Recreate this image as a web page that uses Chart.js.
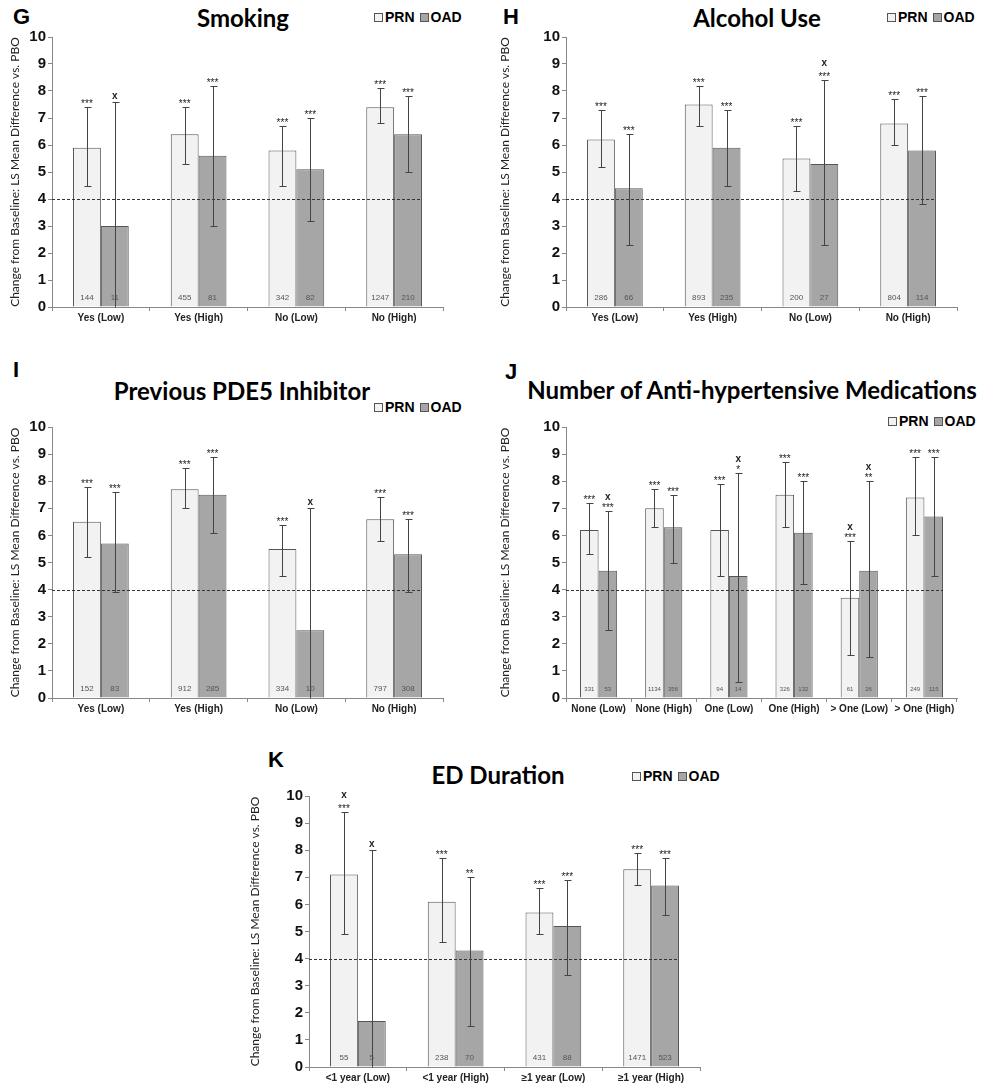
<!DOCTYPE html>
<html>
<head>
<meta charset="utf-8">
<script src="https://cdn.jsdelivr.net/npm/chart.js@4.4.1/dist/chart.umd.min.js"></script>
<style>
  body { margin: 0; background: #fff; width: 982px; height: 1087px; position: relative; overflow: hidden; }
  canvas { position: absolute; }
  .txt { position: absolute; white-space: nowrap; color: #000; }
  .letter { font: bold 22px "Liberation Sans", Arial, sans-serif; transform: translateY(-50%); }
  .title { font: bold 24px Lato, sans-serif; transform: translate(-50%, -50%); }
  .legend { display: flex; align-items: center; font: bold 14px "Liberation Sans", Arial, sans-serif; transform: translateY(-50%); }
  .sw { display: inline-block; width: 7px; height: 7px; border: 1px solid #555; margin-right: 2px; }
  .sw.prn { background: #f2f2f2; }
  .sw.oad { background: #a6a6a6; margin-left: 5px; }
</style>
</head>
<body>

<div class="txt letter" style="left:13px;top:17px">G</div>
<div class="txt title" style="left:243px;top:17px">Smoking</div>
<div class="txt legend" style="left:374px;top:17px"><span class="sw prn"></span>PRN<span class="sw oad"></span>OAD</div>

<div class="txt letter" style="left:503px;top:17px">H</div>
<div class="txt title" style="left:757px;top:17px">Alcohol Use</div>
<div class="txt legend" style="left:887px;top:17px"><span class="sw prn"></span>PRN<span class="sw oad"></span>OAD</div>

<div class="txt letter" style="left:13px;top:370px">I</div>
<div class="txt title" style="left:242px;top:390px">Previous PDE5 Inhibitor</div>
<div class="txt legend" style="left:374px;top:407px"><span class="sw prn"></span>PRN<span class="sw oad"></span>OAD</div>

<div class="txt letter" style="left:505px;top:372px">J</div>
<div class="txt title" style="left:752px;top:389px">Number of Anti-hypertensive Medications</div>
<div class="txt legend" style="left:888px;top:421px"><span class="sw prn"></span>PRN<span class="sw oad"></span>OAD</div>

<div class="txt letter" style="left:268px;top:760px">K</div>
<div class="txt title" style="left:498px;top:774px">ED Duration</div>
<div class="txt legend" style="left:632px;top:776px"><span class="sw prn"></span>PRN<span class="sw oad"></span>OAD</div>

<script>
// G - Smoking
const smokingCats = ['Yes (Low)', 'Yes (High)', 'No (Low)', 'No (High)'];
const smokingPrn = [5.9, 6.4, 5.8, 7.4];
const smokingPrnLo = [4.5, 5.3, 4.5, 6.8];
const smokingPrnHi = [7.4, 7.4, 6.7, 8.1];
const smokingOad = [3.0, 5.6, 5.1, 6.4];
const smokingOadLo = [0, 3.0, 3.2, 5.0];
const smokingOadHi = [7.6, 8.2, 7.0, 7.8];
const smokingPrnN = [144, 455, 342, 1247];
const smokingOadN = [11, 81, 82, 210];
const smokingPrnSig = ['***', '***', '***', '***'];
const smokingOadSig = ['x', '***', '***', '***'];

// H - Alcohol Use
const alcoholCats = ['Yes (Low)', 'Yes (High)', 'No (Low)', 'No (High)'];
const alcoholPrn = [6.2, 7.5, 5.5, 6.8];
const alcoholPrnLo = [5.2, 6.7, 4.3, 6.0];
const alcoholPrnHi = [7.3, 8.2, 6.7, 7.7];
const alcoholOad = [4.4, 5.9, 5.3, 5.8];
const alcoholOadLo = [2.3, 4.5, 2.3, 3.8];
const alcoholOadHi = [6.4, 7.3, 8.4, 7.8];
const alcoholPrnN = [286, 893, 200, 804];
const alcoholOadN = [66, 235, 27, 114];
const alcoholPrnSig = ['***', '***', '***', '***'];
const alcoholOadSig = ['***', '***', 'x/***', '***'];

// I - Previous PDE5 Inhibitor
const pde5Cats = ['Yes (Low)', 'Yes (High)', 'No (Low)', 'No (High)'];
const pde5Prn = [6.5, 7.7, 5.5, 6.6];
const pde5PrnLo = [5.2, 7.0, 4.5, 5.8];
const pde5PrnHi = [7.8, 8.5, 6.4, 7.4];
const pde5Oad = [5.7, 7.5, 2.5, 5.3];
const pde5OadLo = [3.9, 6.1, 0, 3.9];
const pde5OadHi = [7.6, 8.9, 7.0, 6.6];
const pde5PrnN = [152, 912, 334, 797];
const pde5OadN = [83, 285, 10, 308];
const pde5PrnSig = ['***', '***', '***', '***'];
const pde5OadSig = ['***', '***', 'x', '***'];

// J - Number of Anti-hypertensive Medications
const medsCats = ['None (Low)', 'None (High)', 'One (Low)', 'One (High)', '> One (Low)', '> One (High)'];
const medsPrn = [6.2, 7.0, 6.2, 7.5, 3.7, 7.4];
const medsPrnLo = [5.3, 6.3, 4.5, 6.3, 1.6, 6.0];
const medsPrnHi = [7.2, 7.7, 7.9, 8.7, 5.8, 8.9];
const medsOad = [4.7, 6.3, 4.5, 6.1, 4.7, 6.7];
const medsOadLo = [2.5, 5.0, 0.6, 4.2, 1.5, 4.5];
const medsOadHi = [6.9, 7.5, 8.3, 8.0, 8.0, 8.9];
const medsPrnN = [331, 1134, 94, 326, 61, 249];
const medsOadN = [53, 356, 14, 132, 26, 115];
const medsPrnSig = ['***', '***', '***', '***', 'x/***', '***'];
const medsOadSig = ['x/***', '***', 'x/*', '***', 'x/**', '***'];

// K - ED Duration
const durationCats = ['<1 year (Low)', '<1 year (High)', '\u22651 year (Low)', '\u22651 year (High)'];
const durationPrn = [7.1, 6.1, 5.7, 7.3];
const durationPrnLo = [4.9, 4.6, 4.9, 6.7];
const durationPrnHi = [9.4, 7.7, 6.6, 7.9];
const durationOad = [1.7, 4.3, 5.2, 6.7];
const durationOadLo = [0, 1.5, 3.4, 5.6];
const durationOadHi = [8.0, 7.0, 6.9, 7.7];
const durationPrnN = [55, 238, 431, 1471];
const durationOadN = [5, 70, 88, 523];
const durationPrnSig = ['x/***', '***', '***', '***'];
const durationOadSig = ['x', '**', '***', '***'];

// error bars, significance marks, n counts and the dashed line at 4
const extrasPlugin = {
  id: 'extras',
  afterDatasetsDraw(chart) {
    const ctx = chart.ctx;
    const y = chart.scales.y;
    const area = chart.chartArea;
    const small = chart.data.labels.length > 4;
    ctx.save();

    const lastMeta = chart.getDatasetMeta(chart.data.datasets.length - 1);
    const lastBar = lastMeta.data[lastMeta.data.length - 1];
    const y4 = Math.round(y.getPixelForValue(4)) + 0.5;
    ctx.strokeStyle = '#333';
    ctx.lineWidth = 1;
    ctx.setLineDash([3, 2]);
    ctx.beginPath();
    ctx.moveTo(area.left, y4);
    ctx.lineTo(lastBar.x + lastBar.width / 2, y4);
    ctx.stroke();
    ctx.setLineDash([]);

    chart.data.datasets.forEach((ds, i) => {
      chart.getDatasetMeta(i).data.forEach((bar, j) => {
        const x = Math.round(bar.x) + 0.5;
        const top = Math.round(y.getPixelForValue(ds.hi[j])) + 0.5;
        const bot = Math.round(y.getPixelForValue(ds.lo[j])) + 0.5;
        ctx.strokeStyle = '#444';
        ctx.beginPath();
        ctx.moveTo(x, top); ctx.lineTo(x, bot);
        ctx.moveTo(x - 3, top); ctx.lineTo(x + 4, top);
        if (ds.lo[j] > 0) { ctx.moveTo(x - 3, bot); ctx.lineTo(x + 4, bot); }
        ctx.stroke();

        ctx.fillStyle = '#555';
        ctx.textAlign = 'center';
        ctx.textBaseline = 'middle';
        ctx.font = (small ? 6 : 8) + 'px "Liberation Sans"';
        ctx.fillText(String(ds.n[j]), bar.x, y.getPixelForValue(0) - 9);

        const rows = ds.sig[j].split('/').reverse();
        let yc = top - 7;
        ctx.textBaseline = 'alphabetic';
        ctx.fillStyle = '#222';
        rows.forEach(r => {
          if (r === 'x') {
            ctx.font = 'bold 10px "Liberation Sans"';
            ctx.fillText(r, bar.x, yc + 3);
          } else {
            ctx.font = '10px "Liberation Sans"';
            ctx.fillText(r, bar.x, yc + 6);
          }
          yc -= small ? 8 : 11;
        });
      });
    });
    ctx.restore();
  }
};

function drawPanel(box, area, cats, prn, prnLo, prnHi, prnN, prnSig, oad, oadLo, oadHi, oadN, oadSig) {
  const canvas = document.createElement('canvas');
  canvas.width = box.w;
  canvas.height = box.h;
  canvas.style.left = box.x + 'px';
  canvas.style.top = box.y + 'px';
  document.body.appendChild(canvas);

  const yWidth = area.l - box.x;
  const xHeight = box.y + box.h - area.b;

  new Chart(canvas.getContext('2d'), {
    type: 'bar',
    data: {
      labels: cats,
      datasets: [{
        label: 'PRN',
        data: prn,
        lo: prnLo, hi: prnHi, n: prnN, sig: prnSig,
        backgroundColor: '#f2f2f2',
        borderColor: '#555',
        borderWidth: 1,
        barPercentage: 1,
        categoryPercentage: 0.57
      }, {
        label: 'OAD',
        data: oad,
        lo: oadLo, hi: oadHi, n: oadN, sig: oadSig,
        backgroundColor: '#a6a6a6',
        borderColor: '#555',
        borderWidth: 1,
        barPercentage: 1,
        categoryPercentage: 0.57
      }]
    },
    options: {
      responsive: false,
      animation: false,
      layout: { padding: { left: 0, top: area.t - box.y, right: box.x + box.w - area.r, bottom: 0 } },
      plugins: { legend: { display: false }, title: { display: false }, tooltip: { enabled: false } },
      scales: {
        x: {
          grid: { drawOnChartArea: false, tickLength: 4, color: '#888', offset: true },
          border: { color: '#888' },
          ticks: { font: { family: 'Liberation Sans', weight: 'bold', size: 10 }, color: '#222', padding: 1, maxRotation: 0, autoSkip: false },
          afterFit: s => { s.height = xHeight; }
        },
        y: {
          min: 0, max: 10,
          grid: { drawOnChartArea: false, tickLength: 4, color: '#888' },
          border: { color: '#888' },
          ticks: { stepSize: 1, font: { family: 'Liberation Sans', weight: 'bold', size: 15 }, color: '#111', padding: 2 },
          title: {
            display: true,
            text: 'Change from Baseline: LS Mean Difference vs. PBO',
            font: { family: 'Lato', size: 12 },
            color: '#222',
            padding: { top: 8, bottom: 0 }
          },
          afterFit: s => { s.width = yWidth; }
        }
      }
    },
    plugins: [extrasPlugin]
  });
}

drawPanel({ x: 0, y: 25, w: 470, h: 305 }, { l: 52, t: 37, r: 443, b: 307 }, smokingCats,
  smokingPrn, smokingPrnLo, smokingPrnHi, smokingPrnN, smokingPrnSig,
  smokingOad, smokingOadLo, smokingOadHi, smokingOadN, smokingOadSig);

drawPanel({ x: 490, y: 25, w: 492, h: 305 }, { l: 566, t: 37, r: 957, b: 307 }, alcoholCats,
  alcoholPrn, alcoholPrnLo, alcoholPrnHi, alcoholPrnN, alcoholPrnSig,
  alcoholOad, alcoholOadLo, alcoholOadHi, alcoholOadN, alcoholOadSig);

drawPanel({ x: 0, y: 415, w: 470, h: 305 }, { l: 52, t: 427, r: 443, b: 698 }, pde5Cats,
  pde5Prn, pde5PrnLo, pde5PrnHi, pde5PrnN, pde5PrnSig,
  pde5Oad, pde5OadLo, pde5OadHi, pde5OadN, pde5OadSig);

drawPanel({ x: 490, y: 415, w: 492, h: 305 }, { l: 566, t: 427, r: 957, b: 698 }, medsCats,
  medsPrn, medsPrnLo, medsPrnHi, medsPrnN, medsPrnSig,
  medsOad, medsOadLo, medsOadHi, medsOadN, medsOadSig);

drawPanel({ x: 240, y: 784, w: 500, h: 303 }, { l: 309, t: 796, r: 700, b: 1067 }, durationCats,
  durationPrn, durationPrnLo, durationPrnHi, durationPrnN, durationPrnSig,
  durationOad, durationOadLo, durationOadHi, durationOadN, durationOadSig);
</script>
</body>
</html>
